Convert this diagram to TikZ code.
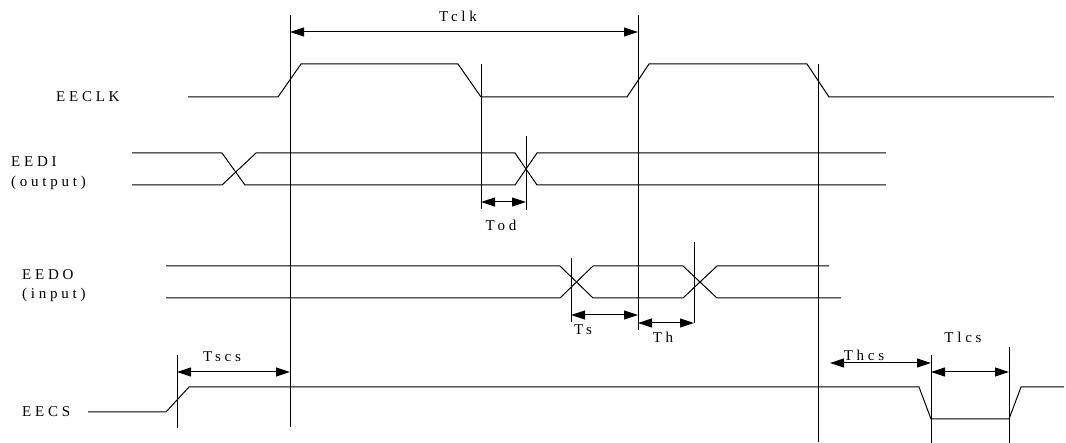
\documentclass[tikz,border=0pt]{standalone}
\usepackage{fontspec}
\setmainfont{Liberation Serif}[LetterSpace=25]
\usetikzlibrary{arrows.meta}
\begin{document}
\begin{tikzpicture}[x=1pt,y=-1pt,
  sig/.style={line width=1pt},
  vmark/.style={line width=1pt},
  dimarrow/.style={line width=1pt,{Triangle[length=14pt,width=9pt]}-{Triangle[length=14pt,width=9pt]}},
  lbl/.style={font=\fontsize{15}{17}\selectfont,inner sep=0pt},
  signame/.style={font=\fontsize{15}{17}\selectfont,inner sep=0pt,anchor=west}]
\useasboundingbox (0,0) rectangle (1066,443);
% signal labels
\node[signame] (lclk) at (56,97) {EECLK};
\node[signame] (ldi) at (11,162) {EEDI};
\node[signame] (ldio) at (11,183) {(output)};
\node[signame] (ldo) at (22,275) {EEDO};
\node[signame] (ldoi) at (22,295) {(input)};
\node[signame] (lcs) at (22,412) {EECS};
% EECLK
\draw[sig] (188,97) -- (278,97) -- (301,64) -- (458,64) -- (481,97) -- (627,97) -- (649,64) -- (807,64) -- (829,97) -- (1054,97);
% EEDI
\draw[sig] (132,153) -- (222,153) -- (245,185) -- (515,185) -- (537,153) -- (886,153);
\draw[sig] (132,185) -- (222,185) -- (256,153) -- (515,153) -- (537,185) -- (886,185);
% EEDO
\draw[sig] (166,266) -- (560,266) -- (593,298) -- (683,298) -- (717,266) -- (829,266);
\draw[sig] (166,298) -- (560,298) -- (593,266) -- (683,266) -- (717,298) -- (841,298);
% EECS
\draw[sig] (88,412) -- (166,412) -- (189,387) -- (919,387) -- (931,419) -- (1009,419) -- (1021,387) -- (1064,387);
% vertical markers
\coordinate (a1) at (290,15);  \coordinate (a2) at (290,427);
\coordinate (b1) at (638,15);  \coordinate (b2) at (638,330);
\coordinate (c1) at (481,64);  \coordinate (c2) at (481,209);
\coordinate (d1) at (526,136); \coordinate (d2) at (526,210);
\coordinate (e1) at (818,64);  \coordinate (e2) at (818,442);
\coordinate (f1) at (571,258); \coordinate (f2) at (571,322);
\coordinate (g1) at (694,242); \coordinate (g2) at (694,323);
\coordinate (h1) at (177,355); \coordinate (h2) at (177,428);
\coordinate (i1) at (931,355); \coordinate (i2) at (931,443);
\coordinate (j1) at (1009,347); \coordinate (j2) at (1009,443);
\foreach \p in {a,b,c,d,e,f,g,h,i,j} \draw[vmark] (\p1) -- (\p2);
% dimension arrows
\coordinate (thl) at (830,363);
\draw[dimarrow] (a1 |- 0,32) -- (b1 |- 0,32);
\draw[dimarrow] (c1 |- 0,202) -- (d1 |- 0,202);
\draw[dimarrow] (f1 |- 0,315) -- (b1 |- 0,315);
\draw[dimarrow] (b1 |- 0,323) -- (g1 |- 0,323);
\draw[dimarrow] (h1 |- 0,372) -- (a1 |- 0,372);
\draw[dimarrow] (thl) -- (i1 |- thl);
\draw[dimarrow] (i1 |- 0,372) -- (j1 |- 0,372);
% dimension labels
\node[lbl] (tclk) at (458,16) {Tclk};
\node[lbl] (tod) at (501,225) {Tod};
\node[lbl] (ts) at (583,330) {Ts};
\node[lbl] (th) at (663,337) {Th};
\node[lbl] (tscs) at (222,357) {Tscs};
\node[lbl] (thcs) at (864,355) {Thcs};
\node[lbl] (tlcs) at (963,337) {Tlcs};
\end{tikzpicture}
\end{document}
